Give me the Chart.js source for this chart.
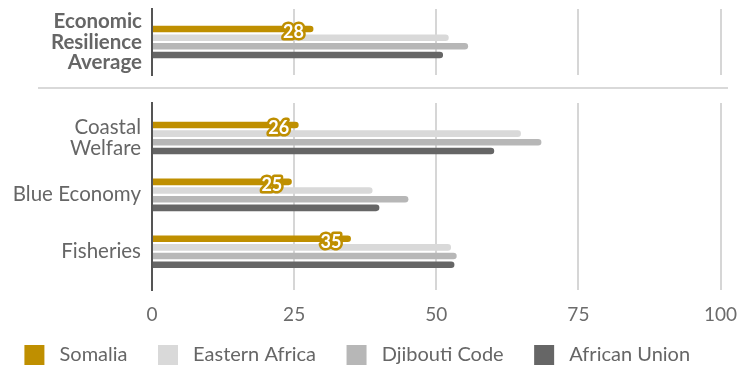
<!DOCTYPE html>
<html>
<head>
<meta charset="utf-8">
<script src="https://cdn.jsdelivr.net/npm/chart.js@4/dist/chart.umd.min.js"></script>
<style>
  html, body { margin: 0; padding: 0; background: #fff; }
  body { width: 751px; height: 366px; overflow: hidden; position: relative; }
  #topChart { position: absolute; left: 0; top: 0; }
  #bottomChart { position: absolute; left: 0; top: 88px; }
  .divider { position: absolute; left: 38px; top: 87px; width: 690px; height: 2px; background: #d9d9d9; }
</style>
</head>
<body>
<canvas id="topChart" width="751" height="88"></canvas>
<div class="divider"></div>
<canvas id="bottomChart" width="751" height="287"></canvas>
<script>
// series + categories
const seriesNames = ['Somalia', 'Eastern Africa', 'Djibouti Code', 'African Union'];
const seriesColors = ['#BF8F00', '#D9D9D9', '#B7B7B7', '#666666'];

const topCategory = [['Economic', 'Resilience', 'Average']];
const topSomalia = [28.4];
const topEastAfrica = [52.2];
const topDjibouti = [55.6];
const topAfricanUnion = [51.2];

const categories = [['Coastal', 'Welfare'], 'Blue Economy', 'Fisheries'];
const somalia = [25.8, 24.6, 35];
const eastAfrica = [64.9, 38.8, 52.6];
const djibouti = [68.5, 45.1, 53.6];
const africanUnion = [60.2, 40.0, 53.2];

const xTicks = [0, 25, 50, 75, 100];

Chart.defaults.font.family = 'Lato';
Chart.defaults.color = '#6b6b6b';

const gridStyle = { color: '#d6d6d6', lineWidth: 2, drawTicks: false };
const axisLine = { display: true, color: '#555', width: 2 };

// white number with gold outline on the Somalia bars
const somaliaLabels = {
  id: 'somaliaLabels',
  afterDatasetsDraw(chart) {
    const ctx = chart.ctx;
    const meta = chart.getDatasetMeta(0);
    const data = chart.data.datasets[0].data;
    ctx.save();
    ctx.font = 'bold 18px Lato';
    ctx.textAlign = 'center';
    ctx.textBaseline = 'middle';
    ctx.lineJoin = 'round';
    meta.data.forEach((bar, i) => {
      const v = data[i];
      const val = typeof v === 'object' ? v.x : v;
      const txt = String(Math.round(val));
      const x = bar.x - 20, y = bar.y + 3;
      ctx.strokeStyle = seriesColors[0];
      ctx.lineWidth = 5;
      ctx.strokeText(txt, x, y);
      ctx.fillStyle = '#fff';
      ctx.fillText(txt, x, y);
    });
    ctx.restore();
  }
};

const xScale = (showTicks) => ({
  type: 'linear',
  min: 0,
  max: 100,
  grid: gridStyle,
  border: { display: false },
  afterBuildTicks: s => { s.ticks = xTicks.map(v => ({ value: v })); },
  ticks: { display: showTicks, padding: 13, font: { size: 19 }, color: '#6b6b6b' },
  afterFit: s => {
    s.height = showTicks ? 45 : 0;
    s.paddingLeft = 0;
    s.paddingRight = 0;
  }
});

const yFit = (w) => s => {
  s.width = w;
  s.paddingTop = 0;
  s.paddingBottom = 0;
};

// top panel
new Chart(document.getElementById('topChart'), {
  type: 'bar',
  data: {
    labels: topCategory,
    datasets: [topSomalia, topEastAfrica, topDjibouti, topAfricanUnion].map((d, i) => ({
      label: seriesNames[i],
      data: d,
      backgroundColor: seriesColors[i],
      borderRadius: 4,
      categoryPercentage: 0.525,
      barPercentage: 0.76
    }))
  },
  options: {
    indexAxis: 'y',
    responsive: false,
    animation: false,
    layout: { padding: { top: 9, bottom: 13, left: 0, right: 30.5 } },
    scales: {
      x: xScale(false),
      y: {
        grid: { display: false, drawTicks: false },
        border: axisLine,
        ticks: { padding: 10, font: { size: 20.5, weight: 'bold', lineHeight: 1.0 }, color: '#666' },
        afterFit: yFit(152)
      }
    },
    plugins: { legend: { display: false }, tooltip: { enabled: false } }
  },
  plugins: [somaliaLabels]
});

// bottom panel (numeric index axis so the category band can be placed freely)
const bandMin = -0.615, bandMax = 2.673;
new Chart(document.getElementById('bottomChart'), {
  type: 'bar',
  data: {
    datasets: [somalia, eastAfrica, djibouti, africanUnion].map((d, i) => ({
      label: seriesNames[i],
      data: d.map((v, j) => ({ x: v, y: j })),
      backgroundColor: seriesColors[i],
      borderRadius: 4,
      categoryPercentage: 0.61,
      barPercentage: 0.76
    }))
  },
  options: {
    indexAxis: 'y',
    responsive: false,
    animation: false,
    layout: { padding: { top: 15, bottom: 0, left: -6, right: 30.5 } },
    scales: {
      x: xScale(true),
      y: {
        type: 'linear',
        reverse: true,
        offset: false,
        grace: 0,
        min: bandMin,
        max: bandMax,
        grid: { display: false, drawTicks: false, offset: false },
        border: axisLine,
        afterDataLimits: s => { s.min = bandMin; s.max = bandMax; },
        afterBuildTicks: s => {
          s.ticks = categories.map((c, i) => ({ value: i }));
          s.min = bandMin;
          s.max = bandMax;
        },
        ticks: {
          padding: 11,
          font: { size: 20.5, lineHeight: 1.0 },
          color: '#666',
          callback: v => categories[v]
        },
        afterFit: yFit(158)
      }
    },
    plugins: {
      legend: {
        position: 'bottom',
        labels: {
          boxWidth: 20,
          boxHeight: 20,
          padding: 10,
          font: { size: 20 },
          color: '#666',
          // extra spacing between legend entries
          generateLabels: chart => Chart.defaults.plugins.legend.labels.generateLabels(chart)
            .map((l, i, arr) => ({ ...l, text: ' ' + l.text + (i < arr.length - 1 ? '    ' : '') }))
        }
      },
      tooltip: { enabled: false }
    }
  },
  plugins: [somaliaLabels]
});
</script>
</body>
</html>
